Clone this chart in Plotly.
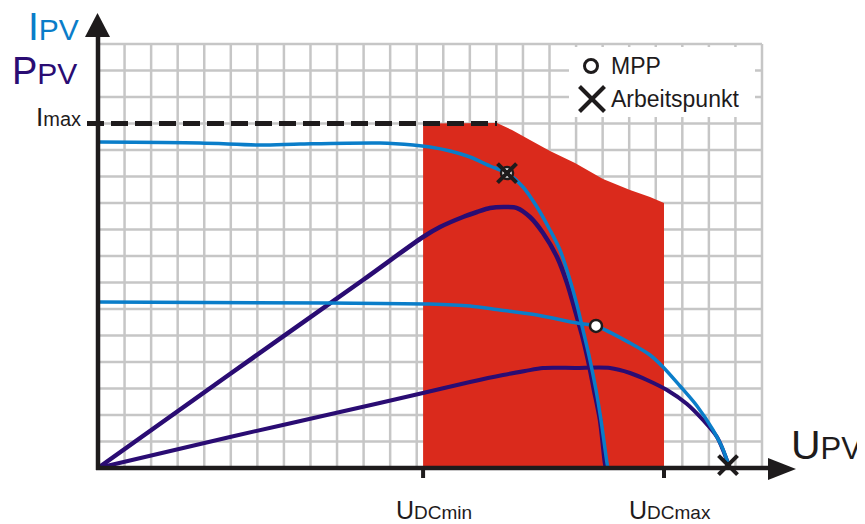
import plotly.graph_objects as go

# ---------------- data (grid units: U along x, I/P along y) ----------------
i1_u = [0, 3.840, 6.099, 7.605, 10.617, 11.860, 12.500, 13.253, 14.006, 14.759, 15.399,
        16.002, 16.529, 17.018, 17.395, 17.771, 18.035, 18.261, 18.524, 18.750, 18.938,
        19.164, 19.202]
i1_v = [12.302, 12.264, 12.189, 12.226, 12.264, 12.189, 12.113, 11.962, 11.736, 11.396, 11.132,
        10.604, 9.849, 8.981, 8.226, 7.094, 6.151, 5.208, 4.075, 2.943, 1.811,
        0.189, 0.0]

p1_u = [0, 4.970, 9.977, 12.236, 12.877, 13.742, 14.270, 14.759, 15.324, 15.776, 16.265,
        16.755, 17.282, 17.658, 17.959, 18.223, 18.449, 18.675, 18.901, 19.089, 19.127]
p1_v = [0, 3.547, 7.094, 8.717, 9.094, 9.472, 9.660, 9.811, 9.849, 9.811, 9.472,
        8.868, 7.962, 6.981, 5.962, 5.019, 4.075, 2.943, 1.811, 0.189, 0.0]

i2_u = [0, 8.735, 12.500, 14.006, 15.136, 16.529, 18.035, 18.750, 20.030, 20.783, 21.273,
        21.913, 22.553, 23.155, 23.494, 23.758]
i2_v = [6.264, 6.226, 6.189, 6.113, 5.962, 5.774, 5.472, 5.358, 4.717, 4.264, 3.811,
        3.094, 2.340, 1.434, 0.792, 0.075]

p2_u = [0, 4.970, 9.111, 12.236, 14.006, 15.249, 16.077, 16.755, 17.959, 19.277, 20.030,
        20.670, 21.423, 22.176, 22.779, 23.306, 23.758]
p2_v = [0, 1.170, 2.113, 2.830, 3.245, 3.509, 3.660, 3.774, 3.774, 3.774, 3.585,
        3.321, 2.943, 2.415, 1.811, 1.170, 0.075]

# permitted operating region (red)
u_dcmin = 12.24
u_dcmax = 21.31
i_max = 13.0
region_top_u = [15.023, 15.587, 16.265, 17.018, 17.959, 19.014, 20.030, 20.783, u_dcmax]
region_top_v = [13.019, 12.755, 12.377, 11.962, 11.509, 10.906, 10.491, 10.226, 10.0]

mpp_u = [15.40, 18.75]
mpp_v = [11.13, 5.36]
ap_u = [15.40, 23.72]
ap_v = [11.13, 0.11]

tick_labels = ["U<span style='font-size:19px'>DCmin</span>",
               "U<span style='font-size:19px'>DCmax</span>"]
legend_labels = ["MPP", "Arbeitspunkt"]

# ---------------- styling ----------------
BLUE = "#0a7dc9"
PURPLE = "#2a0c73"
RED = "#da2a1c"
GRID = "#c6c6c6"
INK = "#1e1b1c"
FONT = "Liberation Sans, Arial, sans-serif"

# page offset of the plot div (body margin) and figure size
OFF = 8
W, H = 865 - OFF, 524 - OFF

# reference-pixel -> grid unit helpers (for decorations only)
PX_U = 26.56
PX_V = 26.5
X0, Y0 = 98, 468


def U(px):
    return (px - X0) / PX_U


def V(py):
    return (Y0 - py) / PX_V


NU, NV = 25, 16

fig = go.Figure()

# red region
reg_u = [u_dcmin, u_dcmin] + region_top_u + [u_dcmax]
reg_v = [0, i_max] + region_top_v + [0]
fig.add_trace(go.Scatter(x=reg_u, y=reg_v, fill="toself", fillcolor=RED,
                         line=dict(width=0, color=RED), mode="lines", hoverinfo="skip"))

sm = 0.8
fig.add_trace(go.Scatter(x=p2_u, y=p2_v, mode="lines",
                         line=dict(color=PURPLE, width=4, shape="spline", smoothing=sm)))
fig.add_trace(go.Scatter(x=p1_u, y=p1_v, mode="lines",
                         line=dict(color=PURPLE, width=4.5, shape="spline", smoothing=sm)))
fig.add_trace(go.Scatter(x=i2_u, y=i2_v, mode="lines",
                         line=dict(color=BLUE, width=3.5, shape="spline", smoothing=sm)))
fig.add_trace(go.Scatter(x=i1_u, y=i1_v, mode="lines",
                         line=dict(color=BLUE, width=3.5, shape="spline", smoothing=sm)))

fig.add_trace(go.Scatter(x=mpp_u, y=mpp_v, mode="markers", name=legend_labels[0],
                         marker=dict(symbol="circle", size=12, color="white",
                                     line=dict(color=INK, width=2.5))))
fig.add_trace(go.Scatter(x=ap_u, y=ap_v, mode="markers", name=legend_labels[1],
                         marker=dict(symbol="x-thin", size=19,
                                     line=dict(color=INK, width=4))))

shapes = []
# grid
for i in range(NU + 1):
    shapes.append(dict(type="line", x0=i, x1=i, y0=0, y1=NV, layer="below",
                       line=dict(color=GRID, width=2.5)))
for j in range(NV + 1):
    shapes.append(dict(type="line", x0=0, x1=NU, y0=j, y1=j, layer="below",
                       line=dict(color=GRID, width=2.5)))
# legend box
shapes.append(dict(type="rect", x0=U(569), x1=U(755), y0=V(117), y1=V(47), layer="below",
                   fillcolor="white", line=dict(width=0)))
# Imax dashed line
shapes.append(dict(type="line", x0=U(87), x1=U(497), y0=i_max, y1=i_max, layer="above",
                   line=dict(color=INK, width=5, dash="17px,7px")))
# axes
shapes.append(dict(type="line", x0=0, x1=0, y0=V(470), y1=V(34), layer="above",
                   line=dict(color=INK, width=4.5)))
shapes.append(dict(type="line", x0=U(96), x1=U(772), y0=0, y1=0, layer="above",
                   line=dict(color=INK, width=4.5)))
shapes.append(dict(type="path", layer="above", fillcolor=INK, line=dict(width=0),
                   path=f"M {U(85)},{V(37)} L {U(97.5)},{V(13)} L {U(110)},{V(37)} Z"))
shapes.append(dict(type="path", layer="above", fillcolor=INK, line=dict(width=0),
                   path=f"M {U(768)},{V(458)} L {U(796)},{V(469)} L {U(768)},{V(480)} Z"))
# tick marks
for u in (u_dcmin, u_dcmax):
    shapes.append(dict(type="line", x0=u, x1=u, y0=0, y1=V(478), layer="above",
                       line=dict(color=INK, width=4)))
# legend symbols
r = 6.5
shapes.append(dict(type="circle", layer="above", x0=U(591 - r), x1=U(591 + r),
                   y0=V(66 + r), y1=V(66 - r), fillcolor="white",
                   line=dict(color=INK, width=3)))
h = 12.5
shapes.append(dict(type="line", layer="above", x0=U(592 - h), x1=U(592 + h),
                   y0=V(99 - h), y1=V(99 + h), line=dict(color=INK, width=4)))
shapes.append(dict(type="line", layer="above", x0=U(592 - h), x1=U(592 + h),
                   y0=V(99 + h), y1=V(99 - h), line=dict(color=INK, width=4)))

ann = []


def text(x, y, s, size, color=INK, xanchor="left"):
    ann.append(dict(x=x, y=y, text=s, showarrow=False, xanchor=xanchor, yanchor="middle",
                    font=dict(family=FONT, size=size, color=color), borderpad=0))


text(U(27), V(26), "I<span style='font-size:30px'>PV</span>", 39, BLUE)
text(U(11), V(71), "P<span style='font-size:30px'>PV</span>", 38, PURPLE)
text(U(35), V(117), "I<span style='font-size:20px'>max</span>", 26)
text(U(790), V(445), "U<span style='font-size:31px'>PV</span>", 41)
text(U(395), V(510), tick_labels[0], 25)
text(U(628), V(510), tick_labels[1], 25)
text(U(610), V(66), legend_labels[0], 23)
text(U(610), V(99), legend_labels[1], 23)

fig.update_layout(
    width=W, height=H,
    margin=dict(l=0, r=0, t=0, b=0),
    paper_bgcolor="white", plot_bgcolor="white",
    showlegend=False,
    xaxis=dict(range=[U(OFF), U(OFF + W)], visible=False, fixedrange=True),
    yaxis=dict(range=[V(OFF + H), V(OFF)], visible=False, fixedrange=True),
    shapes=shapes,
    annotations=ann,
)

fig.write_html("out.html")
